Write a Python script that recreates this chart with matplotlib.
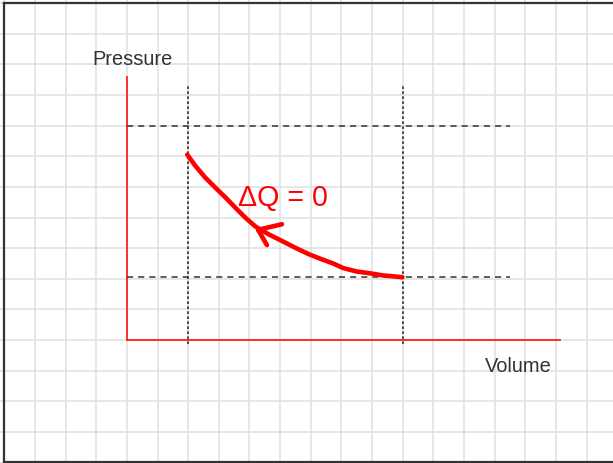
import numpy as np
import matplotlib.pyplot as plt

plt.rcParams['font.family'] = ['Liberation Sans', 'DejaVu Sans']

# adiabatic curve (grid units)
vol = [1.97, 2.23, 2.55, 2.88, 3.21, 3.53, 3.86, 4.19, 4.61, 5.05, 5.48,
       5.92, 6.35, 6.73, 7.06, 7.49, 7.93, 8.36, 8.80, 8.99]
pres = [6.05, 5.69, 5.31, 4.98, 4.66, 4.33, 4.00, 3.71, 3.46, 3.24, 3.02,
        2.81, 2.64, 2.50, 2.35, 2.24, 2.18, 2.11, 2.07, 2.05]

# arrow head on the curve: tip, then the two wings
arrow_tip = (4.28, 3.60)
arrow_wings = [(5.06, 3.78), (4.57, 3.10)]

# guide lines
v_guides = [2.0, 9.0]
p_guides = [7.0, 2.06]
v_axis_end = 14.13
p_axis_end = 8.58

fig = plt.figure(figsize=(6.13, 4.64), dpi=100)
ax = fig.add_axes([0, 0, 1, 1])
ax.set_xlim(-4.14, 15.86)
ax.set_ylim(-4.01, 11.13)
ax.axis('off')

# graph paper
for gx in range(-4, 16):
    ax.axvline(gx, color='#e2e2e2', lw=1.2, zorder=0)
for gy in range(-4, 12):
    ax.axhline(gy, color='#e2e2e2', lw=1.2, zorder=0)

# frame round the picture
ax.plot([-4.0, -4.0], [-3.97, 11.0], color='#333333', lw=1.6)
ax.plot([-4.0, 15.86], [11.0, 11.0], color='#333333', lw=1.6)
ax.plot([-4.0, 15.86], [-3.97, -3.97], color='#333333', lw=1.6)

# red axes
ax.plot([0, 0], [0, p_axis_end], color='#ff2020', lw=1.3)
ax.plot([0, v_axis_end], [0, 0], color='#ff2020', lw=1.3)

# dashed guides
for vx in v_guides:
    ax.plot([vx, vx], [-0.13, 8.3], color='#333333', lw=1.2,
            linestyle=(0, (1.6, 1.4)))
for py in p_guides:
    ax.plot([0, 12.5], [py, py], color='#333333', lw=1.1,
            linestyle=(0, (4, 3.3)))

# curve + arrow
ax.plot(vol, pres, color='#ff0000', lw=3.3, solid_capstyle='round',
        solid_joinstyle='round', zorder=5)
for wx, wy in arrow_wings:
    ax.plot([arrow_tip[0], wx], [arrow_tip[1], wy], color='#ff0000', lw=3.3,
            solid_capstyle='round', zorder=5)

ax.text(3.62, 4.40, '\u0394Q = 0', color='#ff0000', fontsize=20.6,
        ha='left', va='baseline')
ax.text(-1.14, 9.0, 'Pressure', color='#333333', fontsize=14.4,
        ha='left', va='baseline')
ax.text(11.68, -1.0, 'Volume', color='#333333', fontsize=14.4,
        ha='left', va='baseline')

fig.savefig('out.png', dpi=100)
